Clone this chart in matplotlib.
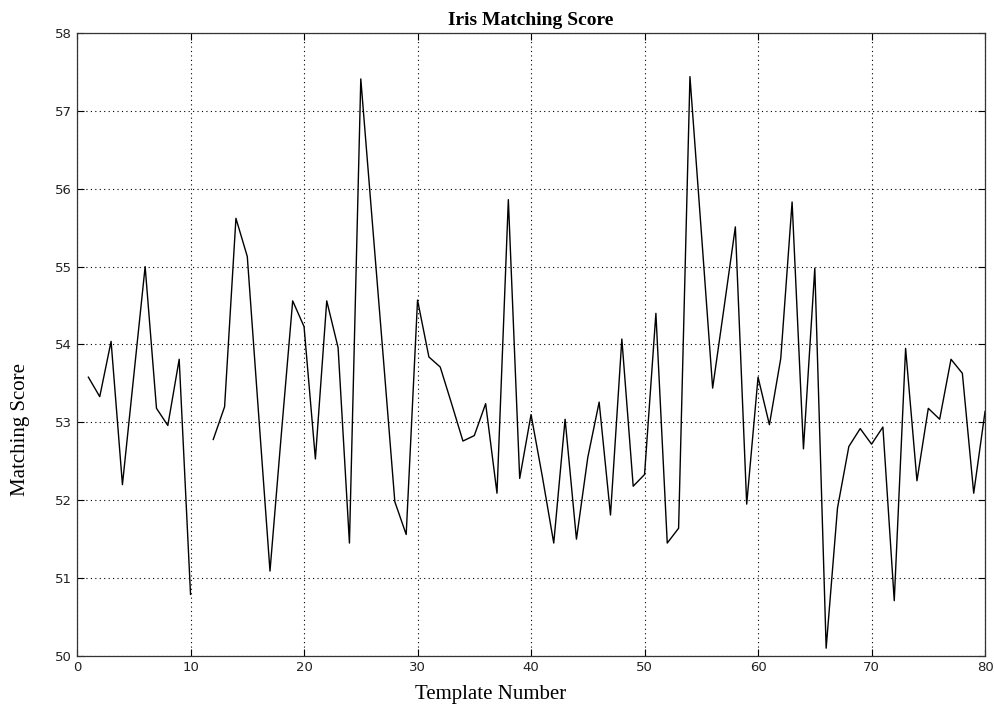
import numpy as np
import matplotlib
matplotlib.use("Agg")
import matplotlib.pyplot as plt

# Template numbers 1..80 (template 11 has no score)
template = np.arange(1, 81)
score = [53.58, 53.33, 54.04, 52.2, 53.6, 55.0, 53.18, 52.96, 53.81, 50.79,
         np.nan, 52.78, 53.2, 55.62, 55.13, 53.1, 51.09, 52.85, 54.56, 54.23,
         52.53, 54.56, 53.96, 51.45, 57.41, 55.6, 53.8, 51.98, 51.56, 54.57,
         53.84, 53.71, 53.24, 52.76, 52.83, 53.24, 52.09, 55.86, 52.28, 53.1,
         52.3, 51.45, 53.04, 51.5, 52.55, 53.26, 51.81, 54.07, 52.18, 52.33,
         54.4, 51.45, 51.64, 57.44, 55.45, 53.44, 54.47, 55.51, 51.95, 53.58,
         52.97, 53.82, 55.83, 52.66, 54.98, 50.1, 51.9, 52.69, 52.92, 52.72,
         52.94, 50.71, 53.95, 52.25, 53.18, 53.04, 53.81, 53.63, 52.09, 53.14]

xticks = [0, 10, 20, 30, 40, 50, 60, 70, 80]
yticks = [50, 51, 52, 53, 54, 55, 56, 57, 58]

fig = plt.figure(figsize=(9.94, 7.11), dpi=100)
ax = fig.add_axes([0.0775, 0.0774, 0.9135, 0.8762])

ax.plot(template, score, color="black", linewidth=1.0)

ax.set_xlim(0, 80)
ax.set_ylim(50, 58)
ax.set_xticks(xticks)
ax.set_yticks(yticks)
# ticks inside on all four sides
ax.tick_params(direction="in", length=5, width=0.8, labelsize=9.5, colors="black",
               top=True, right=True)
for lbl in ax.get_xticklabels() + ax.get_yticklabels():
    lbl.set_family("DejaVu Sans")
    lbl.set_color("#222222")

ax.grid(True, linestyle=(0, (1, 3)), color="black", linewidth=0.8)
for sp in ax.spines.values():
    sp.set_linewidth(0.9)
    sp.set_color("#333333")

ax.set_title("Iris Matching Score", family="Liberation Serif", fontweight="bold",
             fontsize=14, pad=6)
ax.set_xlabel("Template Number", family="Liberation Serif", fontsize=15)
ax.set_ylabel("Matching Score", family="Liberation Serif", fontsize=15)
ax.xaxis.set_label_coords(0.456, -0.046)
ax.yaxis.set_label_coords(-0.052, 0.363)

fig.savefig("out.png", dpi=100, facecolor="white")
